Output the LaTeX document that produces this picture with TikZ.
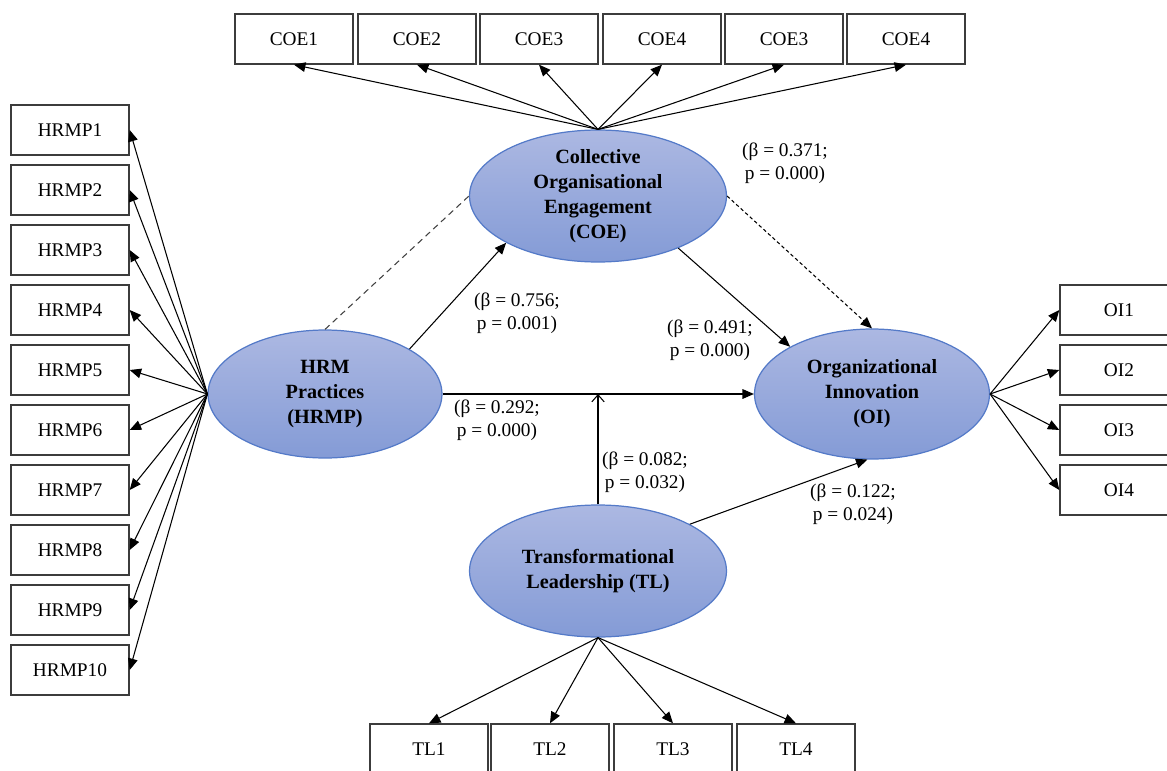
\documentclass[tikz,border=0pt]{standalone}
\usepackage{fontspec}
\setmainfont{Liberation Serif}
\usetikzlibrary{arrows.meta,shapes.geometric}
\definecolor{elltop}{RGB}{172,184,226}
\definecolor{ellbot}{RGB}{132,155,214}
\definecolor{elldraw}{RGB}{84,122,200}
\definecolor{boxdraw}{RGB}{60,60,60}
\begin{document}
\begin{tikzpicture}[x=0.02cm,y=-0.02cm,
  ind/.style={rectangle,draw=boxdraw,line width=0.8pt,fill=white,minimum width=2.36cm,minimum height=1cm,inner sep=0pt,font=\fontsize{11}{13}\selectfont},
  lat/.style={ellipse,draw=elldraw,line width=0.7pt,top color=elltop,bottom color=ellbot,inner sep=0pt,align=center,font=\fontsize{11.5}{14.2}\selectfont\bfseries},
  coef/.style={align=center,inner sep=0pt,font=\fontsize{11}{13}\selectfont},
  arr/.style={-{Triangle[length=6.5pt,width=5.5pt]},line width=0.6pt},
]
\useasboundingbox (0,0) rectangle (1167,771);

% latent variables
\node[lat,minimum width=4.68cm,minimum height=2.56cm] (hrmp) at (325,394) {HRM\\Practices\\(HRMP)};
\node[lat,minimum width=5.14cm,minimum height=2.64cm] (coe) at (598,196) {Collective\\Organisational\\Engagement\\(COE)};
\node[lat,minimum width=4.7cm,minimum height=2.6cm] (oi) at (872,394) {Organizational\\Innovation\\(OI)};
\node[lat,minimum width=5.14cm,minimum height=2.64cm] (tl) at (598,571) {Transformational\\Leadership (TL)};

% indicators
\node[ind] (c1) at (294,39) {COE1};
\node[ind] (c2) at (417,39) {COE2};
\node[ind] (c3) at (539,39) {COE3};
\node[ind] (c4) at (662,39) {COE4};
\node[ind] (c5) at (784,39) {COE3};
\node[ind] (c6) at (906,39) {COE4};
\node[ind] (h1) at (70,130) {HRMP1};
\node[ind] (h2) at (70,190) {HRMP2};
\node[ind] (h3) at (70,250) {HRMP3};
\node[ind] (h4) at (70,310) {HRMP4};
\node[ind] (h5) at (70,370) {HRMP5};
\node[ind] (h6) at (70,430) {HRMP6};
\node[ind] (h7) at (70,490) {HRMP7};
\node[ind] (h8) at (70,550) {HRMP8};
\node[ind] (h9) at (70,610) {HRMP9};
\node[ind] (h10) at (70,670) {HRMP10};
\node[ind] (o1) at (1119,310) {OI1};
\node[ind] (o2) at (1119,370) {OI2};
\node[ind] (o3) at (1119,430) {OI3};
\node[ind] (o4) at (1119,490) {OI4};
\node[ind] (t1) at (429,749) {TL1};
\node[ind] (t2) at (550,749) {TL2};
\node[ind] (t3) at (673,749) {TL3};
\node[ind] (t4) at (796,749) {TL4};

\draw (coe.north) edge[arr] (c1.south) edge[arr] (c2.south) edge[arr] (c3.south) edge[arr] (c4.south) edge[arr] (c5.south) edge[arr] (c6.south);
\draw (hrmp.west) edge[arr] (h1.east) edge[arr] (h2.east) edge[arr] (h3.east) edge[arr] (h4.east) edge[arr] (h5.east) edge[arr] (h6.east) edge[arr] (h7.east) edge[arr] (h8.east) edge[arr] (h9.east) edge[arr] (h10.east);
\draw (oi.east) edge[arr] (o1.west) edge[arr] (o2.west) edge[arr] (o3.west) edge[arr] (o4.west);
\draw (tl.south) edge[arr] (t1.north) edge[arr] (t2.north) edge[arr] (t3.north) edge[arr] (t4.north);

% structural paths
\draw[arr] (hrmp.28)--(coe.207);
\draw[arr] (coe.-33)--(oi.150);
\draw[arr] (hrmp.east)--(oi.west);
\draw[arr] (tl.27)--(oi.266);
\draw[line width=0.6pt,black!75,dash pattern=on 3.5pt off 2.5pt] (hrmp.north)--(coe.west);
\draw[arr,dash pattern=on 2pt off 1.5pt] (coe.east)--(oi.north);
\coordinate (m) at (tl.north |- hrmp.east);
\draw[-{Straight Barb[length=4pt,width=7pt]},line width=0.6pt] (tl.north)--(m);

% coefficients
\node[coef] (b1) at (785,163) {(β = 0.371;\\p = 0.000)};
\node[coef] (b2) at (517,313) {(β = 0.756;\\p = 0.001)};
\node[coef] (b3) at (710,340) {(β = 0.491;\\p = 0.000)};
\node[coef] (b4) at (497,420) {(β = 0.292;\\p = 0.000)};
\node[coef] (b5) at (645,472) {(β = 0.082;\\p = 0.032)};
\node[coef] (b6) at (853,504) {(β = 0.122;\\p = 0.024)};
\end{tikzpicture}
\end{document}
